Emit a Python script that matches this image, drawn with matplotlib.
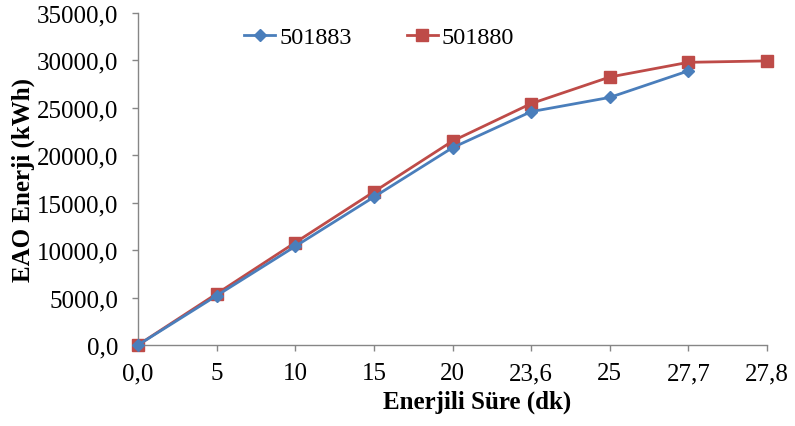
import matplotlib.pyplot as plt
import numpy as np

plt.rcParams['font.family'] = ['Liberation Serif', 'DejaVu Serif']

# --- Data ---
CATEGORIES = ["0,0", "5", "10", "15", "20", "23,6", "25", "27,7", "27,8"]
S_501883 = [0, 5200, 10400, 15600, 20800, 24600, 26100, 28900]
S_501880 = [0, 5400, 10800, 16150, 21500, 25450, 28250, 29800, 29950]
Y_TICKS = [0, 5000, 10000, 15000, 20000, 25000, 30000, 35000]

BLUE = "#4a7ebb"
RED = "#be4b48"
GRAY = "#868686"

W, H = 795, 427
fig = plt.figure(figsize=(W / 100, H / 100), dpi=100)
ax = fig.add_axes([138 / W, 1 - 346 / H, (767 - 138) / W, (346 - 14) / H])

x = np.arange(len(CATEGORIES))
ax.plot(x[:len(S_501883)], S_501883, color=BLUE, lw=2.0, marker="D", ms=6.5,
        label="501883", zorder=3, clip_on=False)
ax.plot(x[:len(S_501880)], S_501880, color=RED, lw=2.0, marker="s", ms=8.5,
        label="501880", zorder=2, clip_on=False)

ax.set_xlim(0, len(CATEGORIES) - 1)
ax.set_ylim(0, 35000)
ax.set_xticks(x)
ax.set_xticklabels(CATEGORIES)
ax.set_yticks(Y_TICKS)
ax.set_yticklabels([f"{v},0" for v in Y_TICKS])

for side in ("top", "right"):
    ax.spines[side].set_visible(False)
for side in ("left", "bottom"):
    ax.spines[side].set_color(GRAY)
    ax.spines[side].set_linewidth(1.0)
ax.tick_params(axis="both", colors=GRAY, length=4.3, width=1.0, labelsize=18,
               labelcolor="black")
ax.tick_params(axis="x", pad=8)
ax.tick_params(axis="y", pad=10)

ax.set_xlabel("Enerjili Süre (dk)", fontsize=18, fontweight="bold")
ax.set_ylabel("EAO Enerji (kWh)", fontsize=18, fontweight="bold")
ax.xaxis.set_label_coords((477 - 138) / 629, -0.135)
ax.yaxis.set_label_coords(-0.164, 0.5)

ax.legend(loc="center left", bbox_to_anchor=(232 / W, 1 - 38 / H),
          bbox_transform=fig.transFigure, ncol=2, frameon=False, borderpad=0,
          fontsize=17.5, handlelength=1.28, handletextpad=0.16, columnspacing=2.26)

fig.savefig("out.png", dpi=100)
